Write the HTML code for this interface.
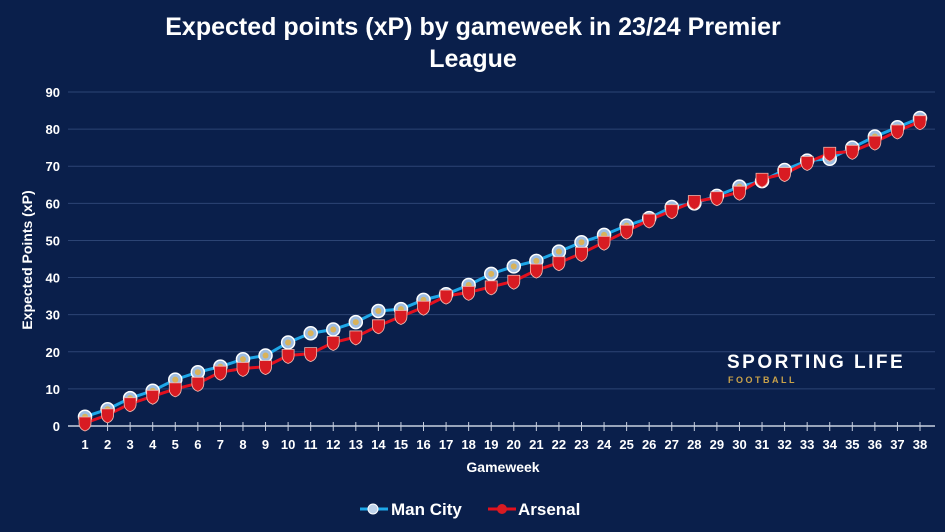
<!DOCTYPE html><html><head><meta charset="utf-8"><style>body{margin:0;background:#0a1f4b;}svg{display:block}text{font-family:"Liberation Sans",sans-serif;fill:#fff;font-weight:bold}</style></head><body>
<svg width="945" height="532" xmlns="http://www.w3.org/2000/svg">
<rect width="945" height="532" fill="#0a1f4b"/>
<text x="473" y="35" font-size="25" text-anchor="middle">Expected points (xP) by gameweek in 23/24 Premier</text>
<text x="473" y="67" font-size="25" text-anchor="middle">League</text>
<g id="g"></g>
<text transform="translate(32,260) rotate(-90)" font-size="14" text-anchor="middle">Expected Points (xP)</text>
<text x="503" y="472" font-size="14" text-anchor="middle">Gameweek</text>
<text x="727" y="368" font-size="19" letter-spacing="2.5">SPORTING LIFE</text>
<text x="728" y="383" font-size="9" letter-spacing="2.5" style="fill:#c9a24a">FOOTBALL</text>
<line x1="360" y1="509" x2="388" y2="509" stroke="#1ea7e8" stroke-width="3"/><circle cx="373" cy="509" r="5" fill="#bfd3ea" stroke="#fff"/>
<text x="391" y="515" font-size="17">Man City</text>
<line x1="488" y1="509" x2="516" y2="509" stroke="#e3101e" stroke-width="3"/><circle cx="502" cy="509" r="5" fill="#d81b22"/>
<text x="518" y="515" font-size="17">Arsenal</text>
</svg>
<script>
const mc=[2.5,4.5,7.5,9.5,12.5,14.5,16,18,19,22.5,25,26,28,31,31.5,34,35.5,38,41,43,44.5,47,49.5,51.5,54,56,59,60,62,64.5,66,69,71.5,72,75,78,80.5,83];
const ar=[0.8,3,6,8,10,11.5,14.5,15.5,16,19,19.5,22.5,24,27,29.5,32,35,36,37.5,39,42,44,46.5,49.5,52.5,55.5,58,60.5,61.5,63,66.5,68,71,73.5,74,76.5,79.5,82];
const X=i=>85+i*(835/37),Y=v=>426-v*3.711;let s='';
for(let v=10;v<=90;v+=10)s+=`<line x1="68" x2="935" y1="${Y(v)}" y2="${Y(v)}" stroke="#2c4474" stroke-width="1"/>`;
for(let v=0;v<=90;v+=10)s+=`<text x="60" y="${Y(v)+5}" font-size="13" text-anchor="end">${v}</text>`;
s+=`<line x1="68" x2="935" y1="426" y2="426" stroke="#c8d0e0" stroke-width="1.5"/>`;
for(let i=0;i<38;i++){s+=`<line x1="${X(i)}" x2="${X(i)}" y1="422" y2="431" stroke="#c8d0e0"/><text x="${X(i)}" y="449" font-size="13" text-anchor="middle">${i+1}</text>`;}
s+=`<polyline fill="none" stroke="#1ea7e8" stroke-width="3" points="${mc.map((v,i)=>X(i)+','+Y(v)).join(' ')}"/>`;
s+=`<polyline fill="none" stroke="#e3101e" stroke-width="3" points="${ar.map((v,i)=>X(i)+','+Y(v)).join(' ')}"/>`;
mc.forEach((v,i)=>s+=`<circle cx="${X(i)}" cy="${Y(v)}" r="6.5" fill="#9fbde0" stroke="#fff" stroke-width="1.5"/><circle cx="${X(i)}" cy="${Y(v)}" r="3" fill="#d9b35a"/>`);
ar.forEach((v,i)=>s+=`<path d="M${X(i)-6} ${Y(v)-6}h12v6q0 6-6 8q-6-2-6-8z" fill="#d81b22" stroke="#f1b9b0" stroke-width="0.8"/>`);
document.getElementById('g').innerHTML=s;
</script></body></html>
